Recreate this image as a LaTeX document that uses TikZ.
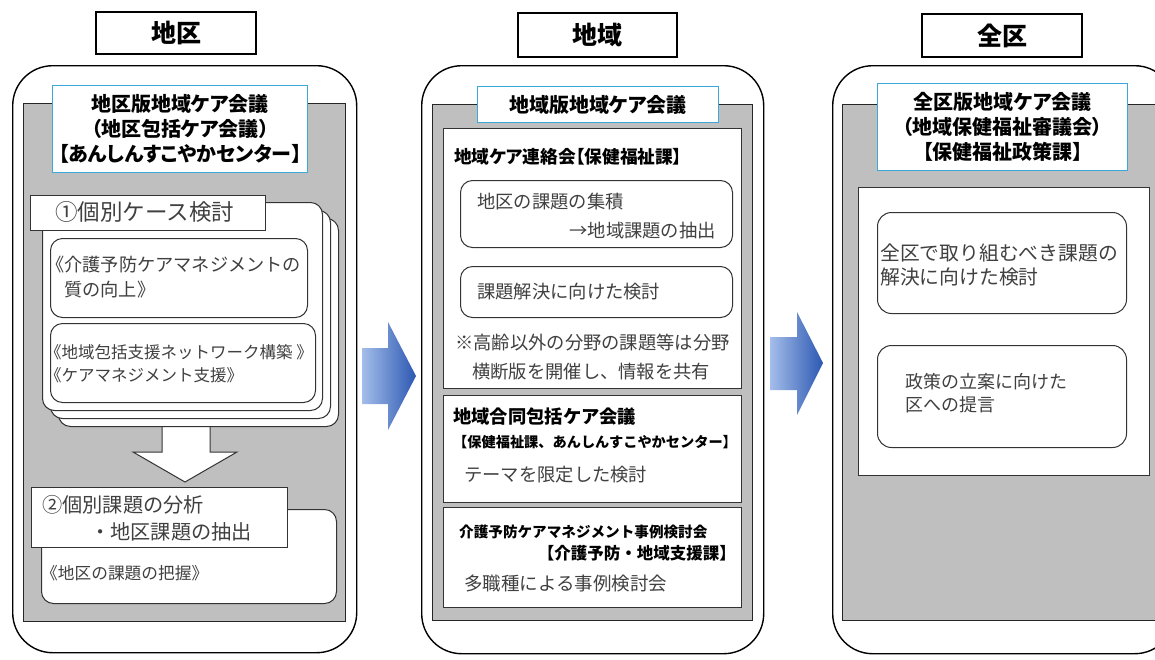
\documentclass[tikz,border=0pt]{standalone}
\usepackage{fontspec}
\setmainfont{Noto Sans CJK JP}
\newfontfamily\headfont{Noto Sans CJK JP}[RawFeature=+palt]
\definecolor{cellgray}{HTML}{BFBFBF}
\definecolor{headblue}{HTML}{3BA7DA}
\definecolor{bodytext}{HTML}{404040}
\definecolor{arrowlight}{HTML}{A4BEEA}
\definecolor{arrowdark}{HTML}{2C58B2}

% box from its top left and bottom right corner (pixels)
\newcommand\areabox[7]{%
  \node[#1, anchor=north west, minimum width={((#4)-(#2))*1pt},
    minimum height={((#5)-(#3))*1pt}] (#6) at (#2,#3) {#7};}

\begin{document}
\begin{tikzpicture}[x=1pt, y=-1pt,
    column/.style={draw=black, line width=1.4pt, fill=white, rounded corners=40pt, inner sep=0pt},
    cell/.style={draw=black!85, line width=1.2pt, fill=cellgray, inner sep=0pt},
    headbox/.style={draw=headblue, line width=1.2pt, fill=white, inner sep=0pt,
      align=center, font=\headfont\fontsize{20}{25}\selectfont\bfseries},
    titlebox/.style={draw=black, line width=1.2pt, fill=white, inner sep=0pt,
      font=\fontsize{25}{30}\selectfont\bfseries},
    panel/.style={draw=black!80, line width=1.3pt, fill=white, inner sep=0pt},
    item/.style={draw=black!80, line width=1pt, fill=white, rounded corners=12pt, inner sep=0pt},
    tag/.style={draw=black!80, line width=1pt, fill=white, inner sep=0pt},
    txt/.style={inner sep=0pt, anchor=west, align=left, text=bodytext,
      font=\fontsize{18.3}{24}\selectfont},
    boldtxt/.style={txt, text=black, font=\fontsize{18}{24}\selectfont\bfseries},
    flow/.style={left color=arrowlight, right color=arrowdark, draw=none}]

\useasboundingbox (0,0) rectangle (1155,659);
\clip (0,0) rectangle (1155,659);
\fill[white] (0,0) rectangle (1155,659);

% ---- 地区
\node[titlebox, minimum width=160pt, minimum height=42pt] (tA) at (176,33) {地区};
\areabox{column}{12}{65}{356}{652}{colA}{}
\areabox{cell}{23}{103}{345}{621}{cellA}{}
\areabox{headbox}{52}{85}{307}{172}{headA}{地区版地域ケア会議\\（地区包括ケア会議）\\【あんしんすこやかセンター】}

\draw[tag] (162,415) -- (210,415) -- (210,452) -- (237,452) -- (185,482)
  -- (133,452) -- (162,452) -- cycle;
\foreach \k in {2,1,0}
  \areabox{item}{42+8*\k}{202+8*\k}{322+8*\k}{410+8*\k}{stack\k}{}
\areabox{tag}{30}{195}{265}{230}{caseTag}{}
\node[txt, font=\fontsize{22.5}{24}\selectfont] (caseTxt) at (55,212) {①個別ケース検討};
\areabox{item}{50}{238}{307}{317}{careA}{}
\node[txt, font=\fontsize{18.2}{25}\selectfont] (careAtxt) at (46,277.5)
  {《介護予防ケアマネジメントの\\\hspace*{18pt}質の向上》};
\areabox{item}{50}{323}{315}{402}{careB}{}
\node[txt, font=\fontsize{16.5}{23}\selectfont] (careBtxt) at (45,363.5)
  {《地域包括支援ネットワーク構築 》\\《ケアマネジメント支援》};

\areabox{item}{41}{509}{336}{603}{issueBox}{}
\areabox{tag}{31}{487}{287}{547}{issueTag}{}
\node[txt, font=\fontsize{20.2}{27}\selectfont] (issueTxt) at (42,518.5)
  {②個別課題の分析\\\hspace*{48pt}・地区課題の抽出};
\node[txt, font=\fontsize{16.7}{20}\selectfont] (graspTxt) at (41,573) {《地区の課題の把握》};

% ---- 地域
\node[titlebox, minimum width=159pt, minimum height=44pt] (tB) at (597.5,35) {地域};
\areabox{column}{421}{65}{763}{653}{colB}{}
\areabox{cell}{432}{104}{752}{620}{cellB}{}
\areabox{headbox}{477}{86}{718}{122}{headB}{地域版地域ケア会議}

\areabox{panel}{443}{128}{741}{388}{liaison}{}
\node[boldtxt, font=\headfont\fontsize{17.7}{24}\selectfont\bfseries] (liaisonTtl) at (454,157) {地域ケア連絡会【保健福祉課】};
\areabox{item}{460}{180}{732}{247}{gather}{}
\node[txt] (gatherTxt) at (477,202) {地区の課題の集積};
\node[txt, anchor=east] (extractTxt) at (716,231) {→地域課題の抽出};
\areabox{item}{460}{266}{732}{317}{solve}{}
\node[txt] (solveTxt) at (477,292) {課題解決に向けた検討};
\node[txt, font=\fontsize{18.3}{29}\selectfont] (noteTxt) at (455,357.5)
  {※高齢以外の分野の課題等は分野\\\hspace*{17pt}横断版を開催し、情報を共有};

\areabox{panel}{443}{395}{741}{502}{joint}{}
\node[boldtxt, font=\fontsize{18.3}{24}\selectfont\bfseries] (jointTtl) at (453,417) {地域合同包括ケア会議};
\node[boldtxt, font=\fontsize{14.2}{18}\selectfont\bfseries] (jointOrg) at (453,442)
  {【保健福祉課、あんしんすこやかセンター】};
\node[txt] (jointTxt) at (464,475) {テーマを限定した検討};

\areabox{panel}{443}{507}{741}{607}{casework}{}
\node[boldtxt, font=\fontsize{14.6}{18}\selectfont\bfseries] (caseworkTtl) at (459,532)
  {介護予防ケアマネジメント事例検討会};
\node[boldtxt, anchor=east, font=\fontsize{16.5}{20}\selectfont\bfseries] (caseworkOrg) at (736,553)
  {【介護予防・地域支援課】};
\node[txt, font=\fontsize{18.5}{24}\selectfont] (caseworkTxt) at (464,583) {多職種による事例検討会};

% ---- 全区
\node[titlebox, minimum width=160pt, minimum height=43pt] (tC) at (1002,35.5) {全区};
\areabox{column}{832}{65}{1174}{653}{colC}{}
\areabox{cell}{842}{104}{1164}{620}{cellC}{}
\areabox{headbox}{877}{83}{1127}{170}{headC}{全区版地域ケア会議\\（地域保健福祉審議会）\\【保健福祉政策課】}
\areabox{panel}{858}{187}{1149}{475}{policy}{}
\areabox{item, rounded corners=14pt}{877}{212}{1126}{313}{tackle}{}
\node[txt, font=\fontsize{19.8}{24}\selectfont] (tackleTxt) at (880,265)
  {全区で取り組むべき課題の\\解決に向けた検討};
\areabox{item, rounded corners=14pt}{877}{345}{1126}{447}{propose}{}
\node[txt, font=\fontsize{18}{23}\selectfont] (proposeTxt) at (905,393.5)
  {政策の立案に向けた\\区への提言};

% ---- block arrows between the columns
\shade[flow] (362,348) -- (388,348) -- (388,322) -- (416,376) -- (388,430)
  -- (388,404) -- (362,404) -- cycle;
\shade[flow] (770,337) -- (797,337) -- (797,312) -- (823,363) -- (797,415)
  -- (797,390) -- (770,390) -- cycle;
\end{tikzpicture}
\end{document}
